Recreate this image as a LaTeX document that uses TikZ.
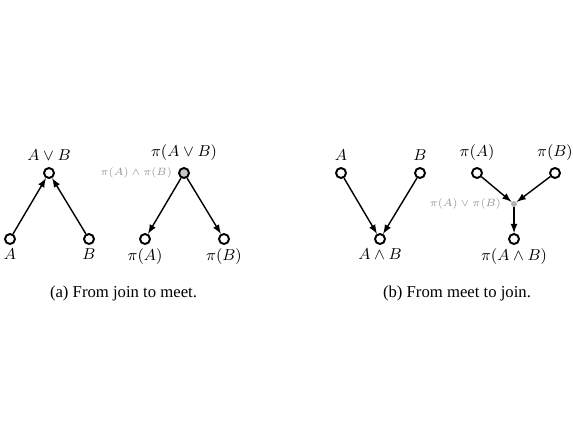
\documentclass[tikz,border=0pt]{standalone}
\usepackage{amsmath}
\usepackage{amssymb}
\usepackage[no-math]{fontspec}
\setmainfont{Liberation Serif}
\usetikzlibrary{arrows, positioning}

\begin{document}
\begin{tikzpicture}[
		x=0.02cm, y=-0.02cm,
		every node/.style={
				font=\fontsize{9.5}{11}\selectfont
			},
		vert/.style={
				circle, draw, line width=1.1pt, fill=white,
				minimum size=0.2cm, inner sep=0pt
			},
		graydot/.style={
				circle, fill=gray!60, minimum size=0.12cm, inner sep=0pt
			},
		graylabel/.style={
				text=gray!85, font=\fontsize{6.3}{7}\selectfont, label distance=0pt
			},
		edge/.style={->, >=latex, thick}
	]
	\useasboundingbox (0, 0) rectangle (573, 432);

	% (a) join to meet
	\node[vert, label=above:{$A\vee B$}] (jtop) at (49, 173) {};
	\node[vert, label={[inner sep=2pt]below:{$A$}}] (ja) at (10, 239) {};
	\node[vert, label={[inner sep=2pt]below:{$B$}}] (jb) at (89, 239) {};
	\draw[edge] (ja) -- (jtop);
	\draw[edge] (jb) -- (jtop);

	\node[vert, fill=gray!45, label=above:{$\pi(A\vee B)$},
		label={[graylabel]left:{$\pi(A)\wedge\pi(B)$}}] (ptop) at (184, 173) {};
	\node[vert, label={[inner sep=2pt]below:{$\pi(A)$}}] (pa) at (145, 239) {};
	\node[vert, label={[inner sep=2pt]below:{$\pi(B)$}}] (pb) at (224, 239) {};
	\draw[edge] (ptop) -- (pa);
	\draw[edge] (ptop) -- (pb);

	\node (capa) at (123.5, 293) {(a) From join to meet.};

	% (b) meet to join
	\node[vert, label=above:{$A$}] (ma) at (341, 173) {};
	\node[vert, label=above:{$B$}] (mb) at (420, 173) {};
	\node[vert, label={[inner sep=2pt]below:{$A\wedge B$}}] (mbot) at (380, 239) {};
	\draw[edge] (ma) -- (mbot);
	\draw[edge] (mb) -- (mbot);

	\node[vert, label=above:{$\pi(A)$}] (qa) at (477, 173) {};
	\node[vert, label=above:{$\pi(B)$}] (qb) at (555, 173) {};
	\node[graydot, label={[graylabel, label distance=2pt]left:{$\pi(A)\vee\pi(B)$}}] (qmid) at (514, 204) {};
	\node[vert, label={[inner sep=2pt]below:{$\pi(A\wedge B)$}}] (qbot) at (514, 239) {};
	\draw[edge] (qa) -- (qmid);
	\draw[edge] (qb) -- (qmid);
	\draw[edge] (qmid) -- (qbot);

	\node (capb) at (457, 293) {(b) From meet to join.};
\end{tikzpicture}
\end{document}
